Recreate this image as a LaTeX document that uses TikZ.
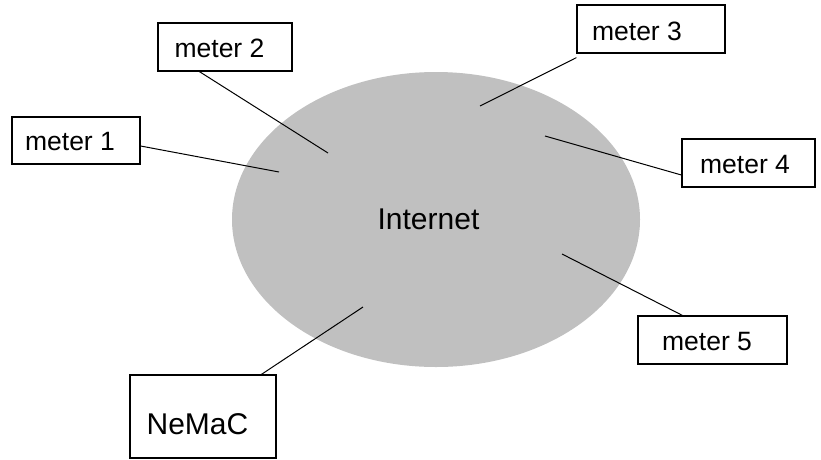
\documentclass[tikz,border=0pt]{standalone}
\usepackage{fontspec}
\setmainfont{Liberation Sans}
\usetikzlibrary{shapes.geometric}
\definecolor{netgray}{HTML}{C0C0C0}
\begin{document}
\begin{tikzpicture}[x=1pt,y=-1pt,
  meterbox/.style={draw=black,line width=1.2pt,fill=white,inner sep=0pt,
    minimum width=#1},
  meterbox/.default=134pt,
  mtext/.style={font=\fontsize{26.5}{26.5}\selectfont},
  link/.style={draw=black,line width=1pt}]
\useasboundingbox (0,0) rectangle (821,459);
\fill[white] (0,0) rectangle (821,459);
\node[ellipse,fill=netgray,minimum width=408pt,minimum height=295pt,inner sep=0pt] (net) at (436,219.5) {};
\node[font=\fontsize{30}{30}\selectfont,inner sep=0pt] (inet) at (428.5,219) {Internet};
% inner ends
\coordinate (p1) at (279,172);
\coordinate (p2) at (328,153);
\coordinate (p3) at (480,106);
\coordinate (p4) at (545,136);
\coordinate (p5) at (562,254);
\coordinate (pn) at (363,307);
% boxes
\node[meterbox=128pt,minimum height=47pt] (m1) at (76,140.5) {};
\node[mtext] (t1) at (70,142) {meter 1};
\node[meterbox=134pt,minimum height=48pt] (m2) at (225,47) {};
\node[mtext] (t2) at (219.5,48) {meter 2};
\node[meterbox=148pt,minimum height=48pt] (m3) at (651,29) {};
\node[mtext] (t3) at (637,31) {meter 3};
\node[meterbox=133pt,minimum height=48pt] (m4) at (748.5,163) {};
\node[mtext] (t4) at (745,165) {meter 4};
\node[meterbox=149pt,minimum height=48pt] (m5) at (712.5,340) {};
\node[mtext] (t5) at (707,342) {meter 5};
\node[meterbox=146pt,minimum height=83pt] (nm) at (203,416.5) {};
\node[font=\fontsize{30}{30}\selectfont] (tn) at (197.5,424) {NeMaC};
% connectors
\draw[link] ([yshift=-5.5pt]m1.east) -- (p1);
\draw[link] ([xshift=42pt]m2.south west) -- (p2);
\draw[link] ([yshift=-4pt]m3.south west) -- (p3);
\draw[link] (p4) -- ([yshift=-12pt]m4.west);
\draw[link] (p5) -- ([xshift=45pt]m5.north west);
\draw[link] ([xshift=132pt]nm.north west) -- (pn);
\end{tikzpicture}
\end{document}
